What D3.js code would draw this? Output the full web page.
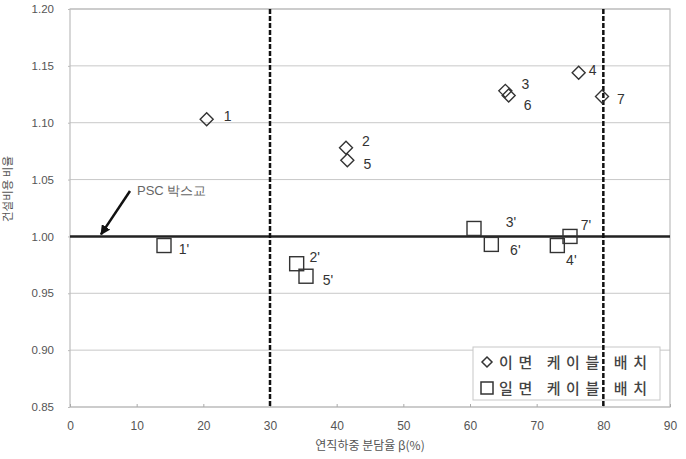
<!DOCTYPE html>
<html>
<head>
<meta charset="utf-8">
<script src="https://cdn.jsdelivr.net/npm/d3@7"></script>
<style>
  html, body { margin: 0; padding: 0; background: #fff; }
  svg { display: block; }
</style>
</head>
<body>
<svg id="chart" width="686" height="459"></svg>
<script>
// ---- data ----
const twoLabels = ["1", "2", "3", "4", "5", "6", "7"];
const twoBeta   = [20.5, 41.4, 65.3, 76.3, 41.6, 65.8, 79.8];
const twoRatio  = [1.103, 1.078, 1.128, 1.144, 1.067, 1.124, 1.123];

const oneLabels = ["1'", "2'", "3'", "4'", "5'", "6'", "7'"];
const oneBeta   = [14.1, 34.0, 60.6, 73.1, 35.4, 63.2, 75.0];
const oneRatio  = [0.992, 0.976, 1.007, 0.992, 0.965, 0.993, 1.000];

const xTicks = [0, 10, 20, 30, 40, 50, 60, 70, 80, 90];
const yTicks = [0.85, 0.90, 0.95, 1.00, 1.05, 1.10, 1.15, 1.20];
const boundaries = [30, 80];
const referenceValue = 1.00;
const legendLabels = ["이면 케이블 배치", "일면 케이블 배치"];

// label offsets (pixels) for point annotations
const twoOffsets = [[21,-3],[20,-7],[20,-7],[14,-3],[20,4],[19,10],[19,2]];
const oneOffsets = [[20,3],[18,-7],[37,-6],[14,14],[22,4],[24,6],[16,-11]];

(function () {
// ---- layout ----
const svg = d3.select("#chart");
const pL = 70, pR = 670, pT = 9, pB = 407;
const x = d3.scaleLinear().domain([0, 90]).range([pL, pR]);
const y = d3.scaleLinear().domain([0.85, 1.20]).range([pB, pT]);
const font = "'Liberation Sans', Arial, sans-serif";
const kfont = "'Noto Sans CJK KR', 'Noto Sans', sans-serif";

// gridlines
svg.append("g").selectAll("line").data(yTicks).join("line")
  .attr("x1", pL).attr("x2", pR)
  .attr("y1", d => y(d)).attr("y2", d => y(d))
  .attr("stroke", "#c8c8c8").attr("stroke-width", 1);

// frame
svg.append("rect").attr("x", pL).attr("y", pT)
  .attr("width", pR - pL).attr("height", pB - pT)
  .attr("fill", "none").attr("stroke", "#bdbdbd").attr("stroke-width", 1.2);

// x axis
const xAxis = d3.axisBottom(x).tickValues(xTicks).tickSize(-3).tickPadding(14).tickFormat(d3.format("d"));
const gx = svg.append("g").attr("transform", `translate(0,${pB})`).call(xAxis);
gx.select(".domain").remove();
gx.selectAll(".tick line").attr("stroke", "#aaa");
gx.selectAll("text").attr("fill", "#555").attr("font-size", 12).attr("font-family", font);

// y axis
const yAxis = d3.axisLeft(y).tickValues(yTicks).tickSize(2).tickPadding(14).tickFormat(d3.format(".2f"));
const gy = svg.append("g").attr("transform", `translate(${pL},0)`).call(yAxis);
gy.select(".domain").remove();
gy.selectAll(".tick line").attr("stroke", "#bbb");
gy.selectAll("text").attr("fill", "#555").attr("font-size", 11.5).attr("font-family", font);

// axis titles
svg.append("text").attr("x", 370).attr("y", 450).attr("text-anchor", "middle")
  .attr("font-family", kfont).attr("font-size", 12).attr("fill", "#555")
  .text("연직하중 분담율 β(%)");
svg.append("text").attr("transform", "translate(7,189) rotate(-90)")
  .attr("text-anchor", "middle").attr("dominant-baseline", "central")
  .attr("font-family", kfont).attr("font-size", 11.5).attr("fill", "#555")
  .text("건설비용 비율");

// legend box (under dashed lines)
const lg = svg.append("g");
lg.append("rect").attr("x", 473).attr("y", 347).attr("width", 187).attr("height", 53)
  .attr("fill", "#fff").attr("stroke", "#c8c8c8").attr("stroke-width", 1);

// reference line
svg.append("line").attr("x1", pL).attr("x2", pR)
  .attr("y1", y(referenceValue)).attr("y2", y(referenceValue))
  .attr("stroke", "#222").attr("stroke-width", 2.5);

// dashed boundaries
svg.append("g").selectAll("line").data(boundaries).join("line")
  .attr("x1", d => x(d)).attr("x2", d => x(d))
  .attr("y1", pT).attr("y2", pB)
  .attr("stroke", "#111").attr("stroke-width", 2.5).attr("stroke-dasharray", "5,2");

// legend items
const diamondPath = (cx, cy, r) => `M${cx},${cy - r}L${cx + r},${cy}L${cx},${cy + r}L${cx - r},${cy}Z`;
lg.append("path").attr("d", diamondPath(487, 362, 5))
  .attr("fill", "none").attr("stroke", "#333").attr("stroke-width", 1.5);
lg.append("rect").attr("x", 481).attr("y", 382).attr("width", 12).attr("height", 12)
  .attr("fill", "none").attr("stroke", "#333").attr("stroke-width", 1.5);
lg.selectAll("text.lgt").data(legendLabels).join("text").attr("class", "lgt")
  .attr("x", 499).attr("y", (d, i) => 368 + i * 26)
  .attr("font-family", kfont).attr("font-size", 15).attr("font-weight", 500).attr("fill", "#444")
  .attr("textLength", 148).attr("lengthAdjust", "spacing")
  .text(d => d);

// diamonds (이면)
const twoIdx = d3.range(twoBeta.length);
svg.append("g").selectAll("path").data(twoIdx).join("path")
  .attr("d", i => diamondPath(x(twoBeta[i]), y(twoRatio[i]), 6.5))
  .attr("fill", "none").attr("stroke", "#333").attr("stroke-width", 1.4);
svg.append("g").selectAll("text").data(twoIdx).join("text")
  .attr("x", i => x(twoBeta[i]) + twoOffsets[i][0])
  .attr("y", i => y(twoRatio[i]) + twoOffsets[i][1] + 5)
  .attr("text-anchor", "middle")
  .attr("font-family", font).attr("font-size", 14).attr("fill", "#333")
  .text(i => twoLabels[i]);

// squares (일면)
const oneIdx = d3.range(oneBeta.length);
svg.append("g").selectAll("rect").data(oneIdx).join("rect")
  .attr("x", i => x(oneBeta[i]) - 7).attr("y", i => y(oneRatio[i]) - 7)
  .attr("width", 14).attr("height", 14)
  .attr("fill", "none").attr("stroke", "#333").attr("stroke-width", 1.4);
svg.append("g").selectAll("text").data(oneIdx).join("text")
  .attr("x", i => x(oneBeta[i]) + oneOffsets[i][0])
  .attr("y", i => y(oneRatio[i]) + oneOffsets[i][1] + 5)
  .attr("text-anchor", "middle")
  .attr("font-family", font).attr("font-size", 14).attr("fill", "#333")
  .text(i => oneLabels[i]);

// PSC annotation
svg.append("defs").append("marker").attr("id", "ah")
  .attr("viewBox", "0 0 10 10").attr("refX", 9).attr("refY", 5)
  .attr("markerWidth", 4).attr("markerHeight", 4).attr("orient", "auto")
  .append("path").attr("d", "M0,0L10,5L0,10Z").attr("fill", "#111");
svg.append("line").attr("x1", 130).attr("y1", 191).attr("x2", 101).attr("y2", y(referenceValue) - 2)
  .attr("stroke", "#111").attr("stroke-width", 2.5).attr("marker-end", "url(#ah)");
svg.append("text").attr("x", 137).attr("y", 195)
  .attr("font-family", font).attr("font-size", 13).attr("fill", "#666")
  .text("PSC 박스교");
})();
</script>
</body>
</html>
